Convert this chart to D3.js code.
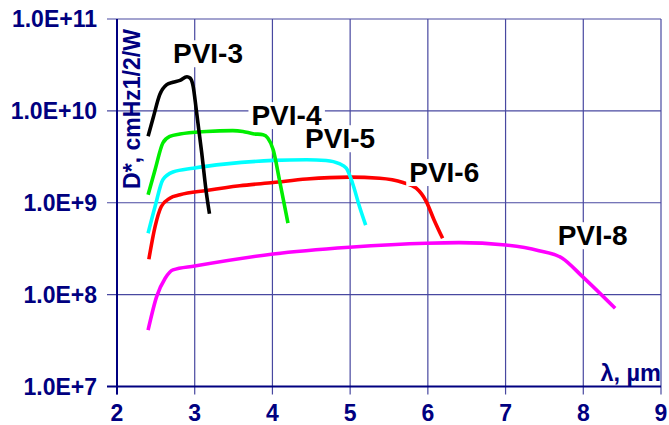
<!DOCTYPE html>
<html>
<head>
<meta charset="utf-8">
<script src="https://cdn.jsdelivr.net/npm/d3@7"></script>
<style>
html,body{margin:0;padding:0;background:#fff;}
svg{display:block;}
text{font-family:"Liberation Sans",Arial,sans-serif;font-weight:bold;}
</style>
</head>
<body>
<svg id="chart" width="669" height="425"></svg>
<script>
// ---- data ----
const xTicks = [2, 3, 4, 5, 6, 7, 8, 9];
const yTicks = [1e7, 1e8, 1e9, 1e10, 1e11];
const yTickLabels = ["1.0E+7", "1.0E+8", "1.0E+9", "1.0E+10", "1.0E+11"];

const seriesNames = ["PVI-8", "PVI-6", "PVI-5", "PVI-4", "PVI-3"];
const seriesColors = ["#ff00ff", "#ff0000", "#00ffff", "#00ee00", "#000000"];

const pvi3X = [2.40, 2.47, 2.55, 2.64, 2.72, 2.81, 2.90, 2.94, 2.98, 3.02, 3.09, 3.15, 3.19];
const pvi3Y = [5.3e9, 8.7e9, 1.5e10, 1.93e10, 2.05e10, 2.15e10, 2.35e10, 2.28e10, 1.85e10, 1.03e10, 3.5e9, 1.28e9, 7.6e8];

const pvi4X = [2.40, 2.49, 2.59, 2.68, 2.81, 3.15, 3.49, 3.62, 3.75, 3.88, 3.94, 4.01, 4.09, 4.20];
const pvi4Y = [1.22e9, 2.29e9, 4.47e9, 5.27e9, 5.6e9, 5.97e9, 6.1e9, 5.97e9, 5.64e9, 5.5e9, 5.06e9, 3.78e9, 1.78e9, 6.0e8];

const pvi5X = [2.40, 2.49, 2.59, 2.72, 2.98, 3.41, 4.01, 4.44, 4.69, 4.86, 4.95, 5.03, 5.12, 5.20];
const pvi5Y = [4.66e8, 9.1e8, 1.78e9, 2.16e9, 2.38e9, 2.65e9, 2.89e9, 2.94e9, 2.88e9, 2.66e9, 2.38e9, 1.64e9, 9.1e8, 5.7e8];

const pvi6X = [2.41, 2.49, 2.57, 2.68, 2.81, 3.15, 3.58, 4.01, 4.44, 4.99, 5.38, 5.68, 5.85, 5.98, 6.08, 6.19];
const pvi6Y = [2.43e8, 5.5e8, 9.1e8, 1.12e9, 1.22e9, 1.36e9, 1.53e9, 1.66e9, 1.81e9, 1.90e9, 1.85e9, 1.66e9, 1.44e9, 1.03e9, 6.5e8, 4.1e8];

const pvi8X = [2.40, 2.51, 2.62, 2.72, 3.00, 4.01, 4.99, 5.98, 6.40, 7.00, 7.43, 7.73, 7.99, 8.41];
const pvi8Y = [4.1e7, 9.5e7, 1.51e8, 1.86e8, 2.05e8, 2.77e8, 3.28e8, 3.63e8, 3.68e8, 3.47e8, 3.01e8, 2.49e8, 1.57e8, 7.1e7];

// label anchor points (data coords: x at label left, y at baseline)
const labelX = [7.67, 5.76, 4.42, 3.73, 2.72];
const labelY = [3.45e8, 1.68e9, 3.92e9, 7.0e9, 3.3e10];

const seriesX = [pvi8X, pvi6X, pvi5X, pvi4X, pvi3X];
const seriesY = [pvi8Y, pvi6Y, pvi5Y, pvi4Y, pvi3Y];

// ---- layout ----
const svg = d3.select("#chart");
const pL = 117, pR = 661, pT = 19, pB = 386.5;
const x = d3.scaleLinear().domain([2, 9]).range([pL, pR]);
const y = d3.scaleLog().domain([1e7, 1e11]).range([pB, pT]);
const navy = "#000080";
const gridColor = "#4848a0";

// grid
const g = svg.append("g");
g.selectAll(".hg").data(yTicks).enter().append("line")
  .attr("x1", pL - 10).attr("x2", pR)
  .attr("y1", d => y(d)).attr("y2", d => y(d))
  .attr("stroke", gridColor).attr("stroke-width", 1.2);
g.selectAll(".vg").data(xTicks).enter().append("line")
  .attr("x1", d => x(d)).attr("x2", d => x(d))
  .attr("y1", pT).attr("y2", pB + 8)
  .attr("stroke", gridColor).attr("stroke-width", 1.2);

// axes lines
g.append("line").attr("x1", pL).attr("x2", pL).attr("y1", pT).attr("y2", pB + 8)
  .attr("stroke", navy).attr("stroke-width", 2);
g.append("line").attr("x1", pL - 10).attr("x2", pR).attr("y1", pB).attr("y2", pB)
  .attr("stroke", navy).attr("stroke-width", 2);

// tick labels
svg.selectAll(".yl").data(yTicks).enter().append("text")
  .attr("x", 97).attr("y", d => y(d) + 8)
  .attr("text-anchor", "end").attr("fill", navy).attr("font-size", 23)
  .text((d, i) => yTickLabels[i]);
svg.selectAll(".xl").data(xTicks).enter().append("text")
  .attr("x", d => x(d)).attr("y", 421)
  .attr("text-anchor", "middle").attr("fill", navy).attr("font-size", 23)
  .text(d => d);

// axis titles
svg.append("text").attr("transform", "translate(140,109) rotate(-90)")
  .attr("text-anchor", "middle").attr("fill", navy).attr("font-size", 23)
  .text("D*, cmHz1/2/W");
svg.append("text").attr("x", 661).attr("y", 381)
  .attr("text-anchor", "end").attr("fill", navy).attr("font-size", 23.5)
  .text("λ, µm");

// series lines
const line = d3.line().x(d => x(d[0])).y(d => y(d[1])).curve(d3.curveMonotoneX);
seriesNames.forEach((name, i) => {
  const pts = seriesX[i].map((v, j) => [v, seriesY[i][j]]);
  svg.append("path").datum(pts).attr("d", line)
    .attr("fill", "none").attr("stroke", seriesColors[i])
    .attr("stroke-width", 3.6).attr("stroke-linejoin", "round").attr("stroke-linecap", "butt");
});

// series labels with white background
seriesNames.forEach((name, i) => {
  const lg = svg.append("g");
  const t = lg.append("text").attr("x", x(labelX[i])).attr("y", y(labelY[i]))
    .attr("fill", "#000").attr("font-size", 28).text(name);
  const bb = t.node().getBBox();
  lg.insert("rect", "text").attr("x", bb.x - 3).attr("y", bb.y + 2)
    .attr("width", bb.width + 6).attr("height", bb.height - 4).attr("fill", "#fff");
});
</script>
</body>
</html>
